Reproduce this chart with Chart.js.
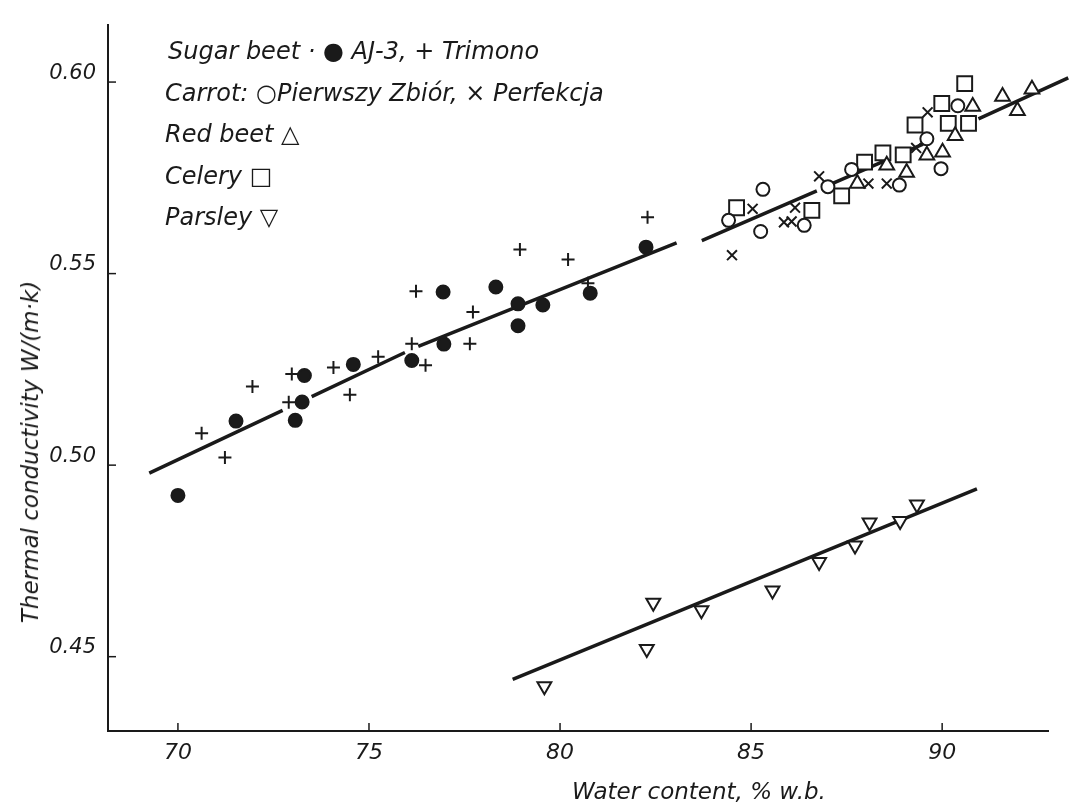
<!DOCTYPE html>
<html>
<head>
<meta charset="utf-8">
<script src="https://cdn.jsdelivr.net/npm/chart.js@4.4.1/dist/chart.umd.min.js"></script>
<style>
  body { margin: 0; background: #fff; }
  #wrap { position: relative; width: 1069px; height: 808px; }
  .txt { position: absolute; font-family: "DejaVu Sans", sans-serif; font-style: italic; color: #1a1a1a; white-space: nowrap; }
  #key { left: 0; top: 0; }
  #key div { position: absolute; font-size: 24px; line-height: 28px; }
</style>
</head>
<body>
<div id="wrap">
  <canvas id="chart"></canvas>
  <div id="key" class="txt">
    <div style="left:168px; top:37px">Sugar beet · ● AJ-3, + Trimono</div>
    <div style="left:165px; top:79px">Carrot: ○Pierwszy Zbiór, × Perfekcja</div>
    <div style="left:165px; top:120px">Red beet △</div>
    <div style="left:165px; top:162px">Celery □</div>
    <div style="left:165px; top:203px">Parsley ▽</div>
  </div>
  <div class="txt" style="left:572px; top:778px; font-size:23px">Water content, % w.b.</div>
  <div class="txt" style="left:30px; top:452px; font-size:23px; transform: translate(-50%,-50%) rotate(-90deg)">Thermal conductivity W/(m·k)</div>
</div>
<script>
// ticks
const xTicks = [70, 75, 80, 85, 90];
const yTicks = [0.45, 0.50, 0.55, 0.60];

// sugar beet AJ-3 (filled circle)
const aj3X = [70.0, 71.52, 73.07, 73.25, 73.31, 74.59, 76.12, 76.96, 76.94, 78.32, 78.90, 78.90, 79.55, 80.79, 82.25];
const aj3Y = [0.4921, 0.5115, 0.5117, 0.5165, 0.5234, 0.5263, 0.5273, 0.5316, 0.5452, 0.5465, 0.5421, 0.5364, 0.5418, 0.5449, 0.5569];

// sugar beet Trimono (+)
const trimX = [70.62, 71.23, 71.95, 72.98, 72.90, 74.07, 75.24, 74.50, 76.12, 76.48, 77.64, 76.23, 77.72, 78.95, 80.21, 80.73, 82.29];
const trimY = [0.5083, 0.5020, 0.5205, 0.5238, 0.5164, 0.5255, 0.5283, 0.5184, 0.5317, 0.5261, 0.5317, 0.5454, 0.5400, 0.5563, 0.5537, 0.5475, 0.5647];

// carrot Pierwszy Zbiór (open circle)
const pierX = [84.41, 85.31, 85.25, 86.39, 87.01, 87.63, 88.88, 89.60, 90.41, 89.97];
const pierY = [0.5639, 0.5720, 0.5610, 0.5626, 0.5727, 0.5772, 0.5731, 0.5852, 0.5938, 0.5774];

// carrot Perfekcja (x)
const perfX = [84.50, 85.04, 85.86, 86.06, 86.15, 86.78, 88.07, 88.55, 89.32, 89.62];
const perfY = [0.5548, 0.5669, 0.5634, 0.5636, 0.5672, 0.5754, 0.5735, 0.5735, 0.5828, 0.5921];

// red beet (triangle)
const redX = [87.78, 88.55, 89.07, 89.60, 90.01, 90.34, 90.80, 91.58, 91.97, 92.35];
const redY = [0.5735, 0.5783, 0.5764, 0.5809, 0.5817, 0.5860, 0.5936, 0.5962, 0.5925, 0.5981];

// celery (square)
const celX = [84.62, 86.59, 87.37, 87.97, 88.45, 88.98, 89.29, 89.99, 90.59, 90.16, 90.69];
const celY = [0.5672, 0.5665, 0.5703, 0.5791, 0.5815, 0.5810, 0.5888, 0.5944, 0.5996, 0.5892, 0.5892];

// parsley (inverted triangle)
const parX = [79.59, 82.27, 82.44, 83.70, 85.56, 86.78, 87.72, 88.10, 88.90, 89.34];
const parY = [0.4423, 0.4520, 0.4641, 0.4621, 0.4673, 0.4747, 0.4790, 0.4850, 0.4854, 0.4897];

// fitted lines (null = gap in the drawn line)
const sugarFitX = [69.25, 72.74, null, 73.50, 75.94, null, 76.29, 83.05];
const sugarFitY = [0.4979, 0.5143, null, 0.5179, 0.5294, null, 0.5310, 0.5580];
const carrotFitX = [83.71, 86.72, null, 87.15, 88.60, null, 88.90, 89.50, null, 90.95, 93.30];
const carrotFitY = [0.5586, 0.5716, null, 0.5736, 0.5799, null, 0.5812, 0.5838, null, 0.5904, 0.6011];
const parFitX = [78.76, 90.91];
const parFitY = [0.4441, 0.4938];

const ink = '#1a1a1a';
const pts = (xs, ys) => xs.map((x, i) => ({ x: x, y: ys[i] }));

function marks(data, style, r, fill, extra) {
    return Object.assign({
        data: data,
        pointStyle: style,
        pointRadius: r,
        pointBackgroundColor: fill,
        pointBorderColor: ink,
        pointBorderWidth: 2,
        showLine: false,
        order: 1
    }, extra || {});
}

function fit(data) {
    return {
        data: data,
        showLine: true,
        spanGaps: false,
        pointRadius: 0,
        borderColor: ink,
        borderWidth: 3.5,
        clip: false,
        order: 2
    };
}

// inward tick marks, like the printed figure
const inwardTicks = {
    id: 'inwardTicks',
    afterDraw(chart) {
        const { ctx, chartArea, scales } = chart;
        ctx.save();
        ctx.strokeStyle = ink;
        ctx.lineWidth = 1.5;
        xTicks.forEach(function (v) {
            const px = scales.x.getPixelForValue(v);
            ctx.beginPath();
            ctx.moveTo(px, chartArea.bottom);
            ctx.lineTo(px, chartArea.bottom - 8);
            ctx.stroke();
        });
        yTicks.forEach(function (v) {
            const py = scales.y.getPixelForValue(v);
            ctx.beginPath();
            ctx.moveTo(chartArea.left, py);
            ctx.lineTo(chartArea.left + 8, py);
            ctx.stroke();
        });
        ctx.restore();
    }
};

const xFont = { family: 'DejaVu Sans', style: 'italic', size: 22 };
const yFont = { family: 'DejaVu Sans', style: 'italic', size: 21 };

const ctx = document.getElementById('chart').getContext('2d');
const chart = new Chart(ctx, {
    type: 'scatter',
    data: {
        datasets: [
            fit(pts(sugarFitX, sugarFitY)),
            fit(pts(carrotFitX, carrotFitY)),
            fit(pts(parFitX, parFitY)),
            marks(pts(aj3X, aj3Y), 'circle', 6.5, ink),
            marks(pts(trimX, trimY), 'cross', 6.5, ink),
            marks(pts(pierX, pierY), 'circle', 6.5, '#fff'),
            marks(pts(perfX, perfY), 'crossRot', 7, ink),
            marks(pts(redX, redY), 'triangle', 8.5, '#fff'),
            marks(pts(celX, celY), 'rect', 10.5, '#fff'),
            marks(pts(parX, parY), 'triangle', 8, '#fff', { pointRotation: 180 })
        ]
    },
    options: {
        responsive: true,
        maintainAspectRatio: false,
        animation: false,
        layout: { padding: { top: 18, right: 21, left: 0, bottom: 0 } },
        plugins: {
            legend: { display: false },
            tooltip: { enabled: false }
        },
        scales: {
            x: {
                type: 'linear',
                min: 68.17,
                max: 92.77,
                afterFit: function (s) { s.height = 77; },
                afterBuildTicks: function (s) { s.ticks = xTicks.map(v => ({ value: v })); },
                grid: { drawOnChartArea: false, drawTicks: false },
                border: { color: ink, width: 2 },
                ticks: { color: ink, font: xFont, padding: 9 }
            },
            y: {
                type: 'linear',
                min: 0.4306,
                max: 0.615,
                afterFit: function (s) { s.width = 108; },
                afterBuildTicks: function (s) { s.ticks = yTicks.map(v => ({ value: v })); },
                grid: { drawOnChartArea: false, drawTicks: false },
                border: { color: ink, width: 2 },
                ticks: {
                    color: ink,
                    font: yFont,
                    padding: 12,
                    labelOffset: -9,
                    callback: function (v) { return v.toFixed(2); }
                }
            }
        }
    },
    plugins: [inwardTicks]
});
</script>
</body>
</html>
